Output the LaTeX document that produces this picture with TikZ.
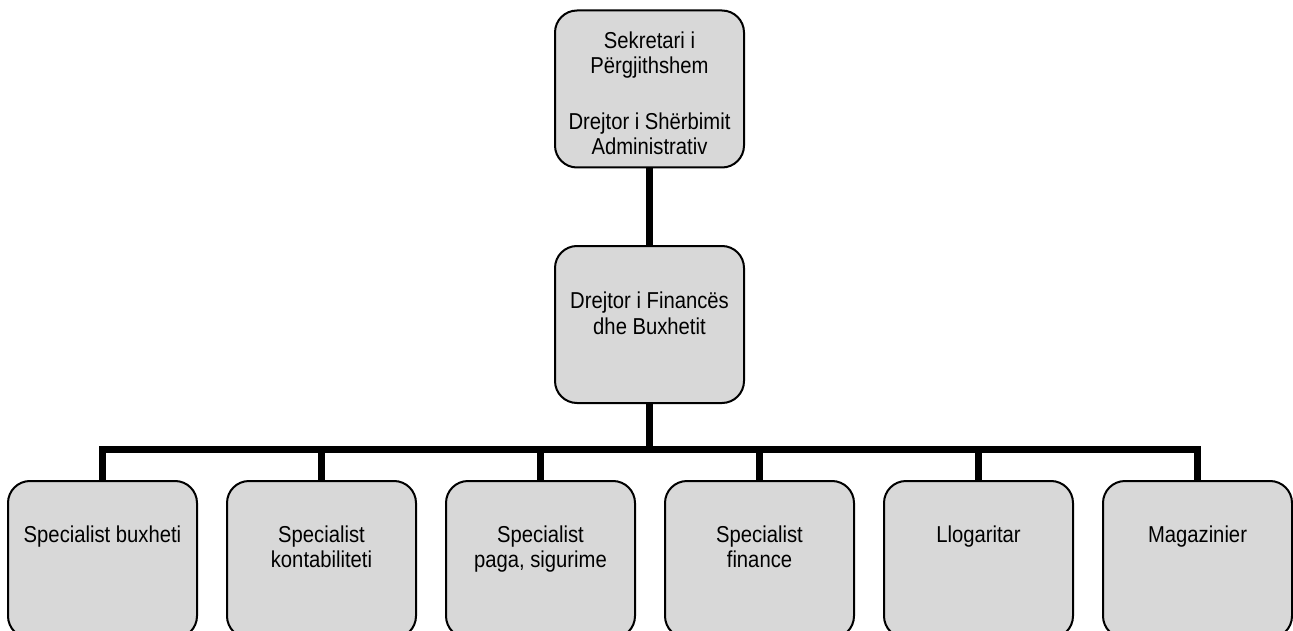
\documentclass[tikz,border=0pt]{standalone}
\usepackage{fontspec}
\setmainfont{Liberation Sans}[FakeStretch=0.88]
\definecolor{boxgray}{RGB}{216,216,216}
\begin{document}
\begin{tikzpicture}[x=1pt,y=-1pt,
  box/.style={draw=black, line width=2pt, fill=boxgray, rounded corners=22pt,
    minimum width=189pt, minimum height=157pt, inner sep=0pt},
  lbl/.style={anchor=base, inner sep=0pt, font=\fontsize{23}{26}\selectfont},
  conn/.style={line width=7pt, line join=miter}]
\useasboundingbox (0,0) rectangle (1293,631);
\clip (0,0) rectangle (1293,631);
% boxes
\node[box] (top) at (649.5,89) {};
\node[box] (mid) at (649.5,324.5) {};
\node[box] (b1) at (102.5,559.5) {};
\node[box] (b2) at (321.5,559.5) {};
\node[box] (b3) at (540.5,559.5) {};
\node[box] (b4) at (759.5,559.5) {};
\node[box] (b5) at (978.5,559.5) {};
\node[box] (b6) at (1197.5,559.5) {};
% connectors
\coordinate (bar) at (649.5,449.5);
\draw[conn] (top.south) -- (mid.north);
\foreach \b in {b1,b2,b3,b4,b5,b6}{
  \draw[conn] (mid.south) -- (bar) -| (\b.north);
}
% texts
\node[lbl] (t1) at (649.5,49) {Sekretari i};
\node[lbl] (t2) at (649.5,74) {Përgjithshem};
\node[lbl] (t3) at (649.5,130) {Drejtor i Shërbimit};
\node[lbl] (t4) at (649.5,155) {Administrativ};
\node[lbl] (m1) at (649.5,308) {Drejtor i Financës};
\node[lbl] (m2) at (649.5,334) {dhe Buxhetit};
\node[lbl] (l1) at (102.5,542) {Specialist buxheti};
\node[lbl] (l2a) at (321.5,542) {Specialist};
\node[lbl] (l2b) at (321.5,567) {kontabiliteti};
\node[lbl] (l3a) at (540.5,542) {Specialist};
\node[lbl] (l3b) at (540.5,567) {paga, sigurime};
\node[lbl] (l4a) at (759.5,542) {Specialist};
\node[lbl] (l4b) at (759.5,567) {finance};
\node[lbl] (l5) at (978.5,542) {Llogaritar};
\node[lbl] (l6) at (1197.5,542) {Magazinier};
\end{tikzpicture}
\end{document}
